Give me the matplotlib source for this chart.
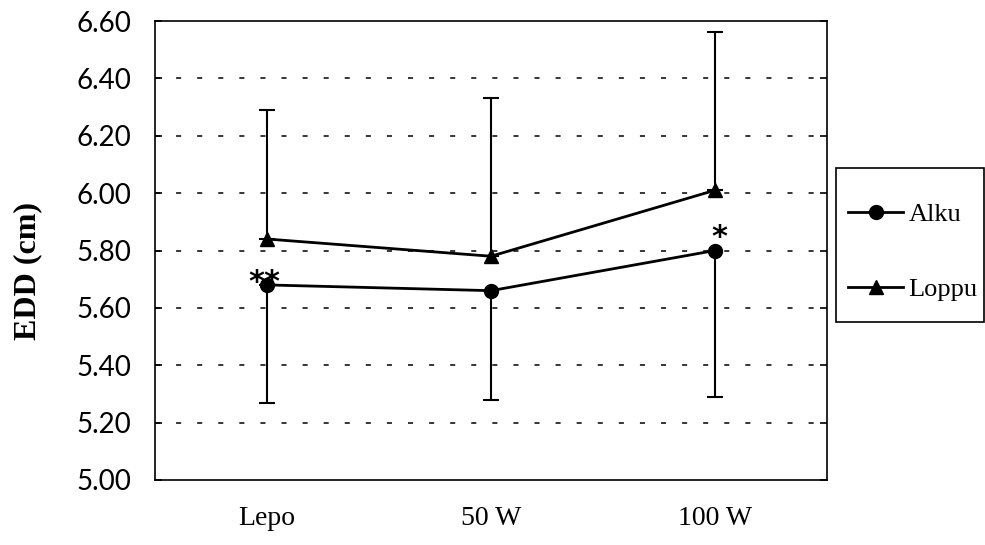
import matplotlib
matplotlib.use("Agg")
import matplotlib.pyplot as plt
from matplotlib.patches import Rectangle
import numpy as np

categories = ["Lepo", "50 W", "100 W"]
alku = [5.68, 5.66, 5.80]
alku_low = [5.27, 5.28, 5.29]
loppu = [5.84, 5.78, 6.01]
loppu_high = [6.29, 6.33, 6.56]
yticks = [5.00, 5.20, 5.40, 5.60, 5.80, 6.00, 6.20, 6.40, 6.60]
annotations = [(0, 5.68, "**", -2.0, -4.7), (2, 5.80, "*", 3.0, 3.6)]

W, H = 985, 545
fig = plt.figure(figsize=(W / 100, H / 100), dpi=100)
ax = fig.add_axes([155 / W, 65 / H, 672 / W, 459 / H])

x = np.arange(len(categories))
serif = "Liberation Serif"

a_err = [np.array(alku) - np.array(alku_low), np.zeros(len(alku))]
l_err = [np.zeros(len(loppu)), np.array(loppu_high) - np.array(loppu)]

ax.errorbar(x, alku, yerr=a_err, fmt="none", ecolor="black", elinewidth=1.5, capsize=5.8, capthick=1.5, zorder=2)
ax.errorbar(x, loppu, yerr=l_err, fmt="none", ecolor="black", elinewidth=1.5, capsize=5.8, capthick=1.5, zorder=2)
l1, = ax.plot(x, alku, color="black", lw=2.0, marker="o", ms=10, label="Alku", zorder=3)
l2, = ax.plot(x, loppu, color="black", lw=2.0, marker="^", ms=10.5, label="Loppu", zorder=3)

for i, v, s, dx, dy in annotations:
    ax.annotate(s, (x[i], v), xytext=(dx, dy), textcoords="offset points",
                ha="center", va="baseline", fontsize=22, fontweight="bold", family="DejaVu Sans")

ax.set_xlim(-0.5, len(categories) - 0.5)
ax.set_ylim(5.0, 6.6)
ax.set_yticks(yticks)
ax.set_yticklabels([f"{v:.2f}" for v in yticks], fontsize=20, family="Lato")
ax.set_xticks(x)
ax.set_xticklabels(categories, fontsize=20, family=serif)
ax.tick_params(axis="x", length=0, pad=19)
ax.tick_params(axis="y", direction="in", length=5, width=1.2, pad=17, right=True)
for y in yticks[1:-1]:
    ax.axhline(y, color="black", lw=1.1, ls=(0, (3.3, 10.5)), zorder=1)
for sp in ax.spines.values():
    sp.set_linewidth(1.2)

fig.text(28 / W, 1 - 271 / H, "EDD (cm)", rotation=90, ha="center", va="center",
         fontsize=23, fontweight="bold", family=serif)

fig.add_artist(Rectangle((836 / W, 1 - 322 / H), 148 / W, 154 / H, transform=fig.transFigure,
                         fill=False, lw=1.2, edgecolor="black"))
leg = fig.legend(handles=[l1, l2], loc="upper left", bbox_to_anchor=(848 / W, 1 - 203 / H),
                 bbox_transform=fig.transFigure, frameon=False,
                 prop={"family": serif, "size": 19}, handlelength=2.1,
                 labelspacing=1.94, borderpad=0, handletextpad=0.2, borderaxespad=0)

fig.savefig("out.png", dpi=100)
